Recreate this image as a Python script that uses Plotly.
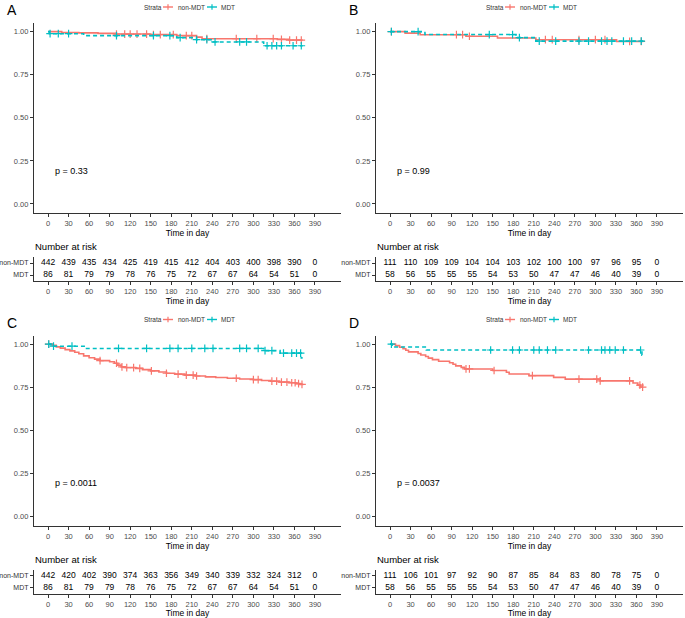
import numpy as np
import plotly.graph_objects as go

W, H = 685, 618
RED = "#F8766D"
TEAL = "#00BFC4"
FONT = "Liberation Sans"

# ---------------- data ----------------
RISK_TIMES = [0, 30, 60, 90, 120, 150, 180, 210, 240, 270, 300, 330, 360, 390]
X_TICKS = [0, 30, 60, 90, 120, 150, 180, 210, 240, 270, 300, 330, 360, 390]
Y_TICKS = [0.0, 0.25, 0.5, 0.75, 1.0]
Y_TICK_TEXT = ["0.00", "0.25", "0.50", "0.75", "1.00"]
STRATA = ["non-MDT", "MDT"]

# Panel A
A_NON_T = [0, 20, 45, 73, 100, 150, 188, 217, 225, 335, 352]
A_NON_S = [1.0, 0.995, 0.993, 0.990, 0.986, 0.983, 0.977, 0.968, 0.959, 0.955, 0.951]
A_NON_END = 372
A_NON_C = [100, 112, 120, 130, 144, 154, 164, 183, 202, 210, 232, 275, 305, 329, 341, 353, 363, 370]
A_MDT_T = [0, 2, 52, 188, 217, 241, 315]
A_MDT_S = [1.0, 0.988, 0.977, 0.965, 0.953, 0.940, 0.918]
A_MDT_END = 372
A_MDT_C = [3, 15, 30, 100, 154, 178, 193, 217, 232, 244, 280, 290, 320, 327, 334, 341, 358, 370]
A_RISK_NON = [442, 439, 435, 434, 425, 419, 415, 412, 404, 403, 400, 398, 390, 0]
A_RISK_MDT = [86, 81, 79, 79, 78, 76, 75, 72, 67, 67, 64, 54, 51, 0]

# Panel B
B_NON_T = [0, 22, 44, 111, 157, 213, 331]
B_NON_S = [1.0, 0.991, 0.982, 0.973, 0.963, 0.953, 0.943]
B_NON_END = 370
B_NON_C = [2, 97, 106, 116, 227, 237, 276, 300, 314, 350, 367]
B_MDT_T = [0, 51, 184, 213]
B_MDT_S = [1.0, 0.983, 0.965, 0.945]
B_MDT_END = 370
B_MDT_C = [2, 41, 145, 179, 189, 218, 242, 276, 290, 309, 317, 324, 341, 353, 367]
B_RISK_NON = [111, 110, 109, 109, 104, 104, 103, 102, 100, 100, 97, 96, 95, 0]
B_RISK_MDT = [58, 56, 55, 55, 55, 54, 53, 50, 47, 47, 46, 40, 39, 0]

# Panel C
C_NON_T = [0, 6, 12, 18, 25, 32, 39, 45, 52, 60, 68, 76, 90, 97, 102, 107, 113, 128,
           138, 150, 162, 173, 185, 200, 215, 230, 245, 262, 280, 300, 312, 325, 338,
           352, 362, 368]
C_NON_S = [1.0, 0.993, 0.984, 0.977, 0.968, 0.961, 0.953, 0.944, 0.932, 0.921, 0.913,
           0.904, 0.898, 0.889, 0.878, 0.868, 0.864, 0.859, 0.852, 0.845, 0.838, 0.831,
           0.826, 0.820, 0.815, 0.810, 0.806, 0.802, 0.798, 0.794, 0.789, 0.785, 0.780,
           0.776, 0.771, 0.766]
C_NON_END = 373
C_NON_C = [1, 76, 100, 108, 115, 125, 134, 151, 173, 190, 202, 212, 217, 275, 300, 307,
           327, 334, 341, 349, 356, 361, 366, 371]
C_MDT_T = [0, 4, 54, 315, 339, 370]
C_MDT_S = [1.0, 0.988, 0.975, 0.962, 0.948, 0.920]
C_MDT_END = 372
C_MDT_C = [1, 8, 35, 103, 144, 178, 190, 210, 229, 241, 280, 290, 307, 317, 327, 344,
           356, 363, 369]
C_RISK_NON = [442, 420, 402, 390, 374, 363, 356, 349, 340, 339, 332, 324, 312, 0]
C_RISK_MDT = [86, 81, 79, 79, 78, 76, 75, 72, 67, 67, 64, 54, 51, 0]

# Panel D
D_NON_T = [0, 8, 14, 19, 23, 27, 41, 45, 52, 56, 62, 71, 87, 92, 96, 104, 109, 150,
           170, 174, 203, 239, 256, 307, 355, 362, 366]
D_NON_S = [1.0, 0.991, 0.982, 0.973, 0.964, 0.955, 0.946, 0.937, 0.928, 0.919, 0.910,
           0.901, 0.892, 0.883, 0.874, 0.865, 0.856, 0.847, 0.837, 0.827, 0.817, 0.807,
           0.797, 0.787, 0.774, 0.762, 0.751]
D_NON_END = 370
D_NON_C = [111, 116, 152, 208, 276, 302, 307, 350, 365, 369]
D_MDT_T = [0, 3, 53, 368]
D_MDT_S = [1.0, 0.983, 0.966, 0.936]
D_MDT_END = 370
D_MDT_C = [2, 147, 179, 189, 210, 218, 230, 242, 290, 309, 314, 321, 329, 341, 366]
D_RISK_NON = [111, 106, 101, 97, 92, 90, 87, 85, 84, 83, 80, 78, 75, 0]
D_RISK_MDT = [58, 56, 55, 55, 55, 54, 53, 50, 47, 47, 46, 40, 39, 0]

P_VALUES = ["p = 0.33", "p = 0.99", "p = 0.0011", "p = 0.0037"]
LETTERS = ["A", "B", "C", "D"]

PANELS = [
    dict(non=(A_NON_T, A_NON_S, A_NON_END, A_NON_C), mdt=(A_MDT_T, A_MDT_S, A_MDT_END, A_MDT_C),
         risk=(A_RISK_NON, A_RISK_MDT), ox=0, oy=0),
    dict(non=(B_NON_T, B_NON_S, B_NON_END, B_NON_C), mdt=(B_MDT_T, B_MDT_S, B_MDT_END, B_MDT_C),
         risk=(B_RISK_NON, B_RISK_MDT), ox=342, oy=0),
    dict(non=(C_NON_T, C_NON_S, C_NON_END, C_NON_C), mdt=(C_MDT_T, C_MDT_S, C_MDT_END, C_MDT_C),
         risk=(C_RISK_NON, C_RISK_MDT), ox=0, oy=312.5),
    dict(non=(D_NON_T, D_NON_S, D_NON_END, D_NON_C), mdt=(D_MDT_T, D_MDT_S, D_MDT_END, D_MDT_C),
         risk=(D_RISK_NON, D_RISK_MDT), ox=342, oy=312.5),
]


# ---------------- helpers ----------------
def pxx(p):
    return p / W


def pxy(p):
    return 1 - p / H


def surv_at(times, surv, t):
    idx = np.searchsorted(np.asarray(times), np.asarray(t), side="right") - 1
    return [surv[i] for i in idx]


X_RANGE = [-20.5, 428]
AXIS_COLOR = "#333333"
TICK_FONT = dict(family=FONT, size=7.5, color="#4D4D4D")

fig = go.Figure()
layout = dict(
    width=W, height=H, margin=dict(l=0, r=0, t=0, b=0),
    paper_bgcolor="white", plot_bgcolor="white", showlegend=False,
    font=dict(family=FONT, color="black"),
)
annotations = []
shapes = []


def axname(i, kind):
    return kind + ("axis" if i == 1 else "axis%d" % i)


def ref(i, kind):
    return kind if i == 1 else "%s%d" % (kind, i)


for pi, P in enumerate(PANELS):
    ox, oy = P["ox"], P["oy"]
    km, tb = 2 * pi + 1, 2 * pi + 2
    xdom = [pxx(34 + ox), pxx(341 + ox)]

    def make_x(anchor):
        return dict(
            domain=xdom, range=X_RANGE, tickmode="array", tickvals=X_TICKS,
            ticks="outside", ticklen=3, tickcolor=AXIS_COLOR, tickwidth=1,
            showline=True, linecolor=AXIS_COLOR, linewidth=1.2, showgrid=False,
            zeroline=False, tickfont=dict(TICK_FONT), anchor=anchor,
            ticklabeloverflow="allow",
            title=dict(text="Time in day", font=dict(family=FONT, size=8.5, color="black"),
                       standoff=2),
        )

    layout[axname(km, "x")] = make_x(ref(km, "y"))
    layout[axname(km, "y")] = dict(
        domain=[pxy(213.3 + oy), pxy(23 + oy)], range=[-0.054, 1.05], anchor=ref(km, "x"),
        tickmode="array", tickvals=Y_TICKS, ticktext=Y_TICK_TEXT,
        ticks="outside", ticklen=3, tickcolor=AXIS_COLOR, tickwidth=1,
        showline=True, linecolor=AXIS_COLOR, linewidth=1.2, showgrid=False, zeroline=False,
        tickfont=dict(TICK_FONT),
    )
    layout[axname(tb, "x")] = make_x(ref(tb, "y"))
    layout[axname(tb, "y")] = dict(
        domain=[pxy(281 + oy), pxy(257 + oy)], range=[-0.5, 1.5], anchor=ref(tb, "x"),
        tickmode="array", tickvals=[1, 0], ticktext=STRATA,
        ticks="outside", ticklen=3, tickcolor=AXIS_COLOR, tickwidth=1,
        showline=True, linecolor=AXIS_COLOR, linewidth=1.2, showgrid=False, zeroline=False,
        tickfont=dict(family=FONT, size=7, color="#333333"),
    )

    xr, yr = ref(km, "x"), ref(km, "y")
    for key, color, dash, name in (("non", RED, "solid", "non-MDT"), ("mdt", TEAL, "4px,3px", "MDT")):
        t, s, end, cens = P[key]
        fig.add_trace(go.Scatter(
            x=list(t) + [end], y=list(s) + [s[-1]], mode="lines", name=name,
            line=dict(color=color, width=1.6, dash=dash, shape="hv"),
            xaxis=xr, yaxis=yr, hoverinfo="skip"))
        fig.add_trace(go.Scatter(
            x=cens, y=surv_at(t, s, cens), mode="markers", name=name + " censored",
            marker=dict(symbol="cross-thin", size=5.5, color=color, line=dict(color=color, width=1.2)),
            xaxis=xr, yaxis=yr, hoverinfo="skip"))

    # risk table numbers
    xr2, yr2 = ref(tb, "x"), ref(tb, "y")
    for row, vals in ((1, P["risk"][0]), (0, P["risk"][1])):
        fig.add_trace(go.Scatter(
            x=RISK_TIMES, y=[row] * len(RISK_TIMES), mode="text",
            text=[str(v) for v in vals], textposition="middle center",
            textfont=dict(family=FONT, size=8.5, color="black"),
            xaxis=xr2, yaxis=yr2, hoverinfo="skip"))

    # p-value
    annotations.append(dict(
        x=7, y=0.193, xref=xr, yref=yr, text=P_VALUES[pi], showarrow=False,
        xanchor="left", yanchor="middle", font=dict(family=FONT, size=9, color="black")))
    # Number at risk
    annotations.append(dict(
        x=pxx(33 + ox), y=pxy(247 + oy), xref="paper", yref="paper", text="Number at risk",
        showarrow=False, xanchor="left", yanchor="middle",
        font=dict(family=FONT, size=9.5, color="black")))
    # panel letter
    annotations.append(dict(
        x=pxx(5 + ox), y=pxy(10 + oy), xref="paper", yref="paper", text=LETTERS[pi],
        showarrow=False, xanchor="left", yanchor="middle",
        font=dict(family=FONT, size=14, color="black")))
    # legend
    ly = pxy(7 + oy)
    annotations.append(dict(
        x=pxx(142 + ox), y=ly, xref="paper", yref="paper", text="Strata", showarrow=False,
        xanchor="left", yanchor="middle", font=dict(family=FONT, size=6.5, color="#333333")))
    for (x0, x1, tx, txt, color) in ((163, 173, 176, "non-MDT", RED), (207, 217, 219, "MDT", TEAL)):
        shapes.append(dict(type="line", xref="paper", yref="paper",
                           x0=pxx(x0 + ox), x1=pxx(x1 + ox), y0=ly, y1=ly,
                           line=dict(color=color, width=1.4)))
        xm = (x0 + x1) / 2
        shapes.append(dict(type="line", xref="paper", yref="paper",
                           x0=pxx(xm + ox), x1=pxx(xm + ox), y0=pxy(4.3 + oy), y1=pxy(9.7 + oy),
                           line=dict(color=color, width=1.2)))
        annotations.append(dict(
            x=pxx(tx + ox), y=ly, xref="paper", yref="paper", text=txt, showarrow=False,
            xanchor="left", yanchor="middle", font=dict(family=FONT, size=6.5, color="#333333")))

layout["annotations"] = annotations
layout["shapes"] = shapes
fig.update_layout(**layout)
fig.write_html("out.html", config={"displayModeBar": False},
               post_script="document.body.style.margin='0';document.body.style.overflow='hidden';")
